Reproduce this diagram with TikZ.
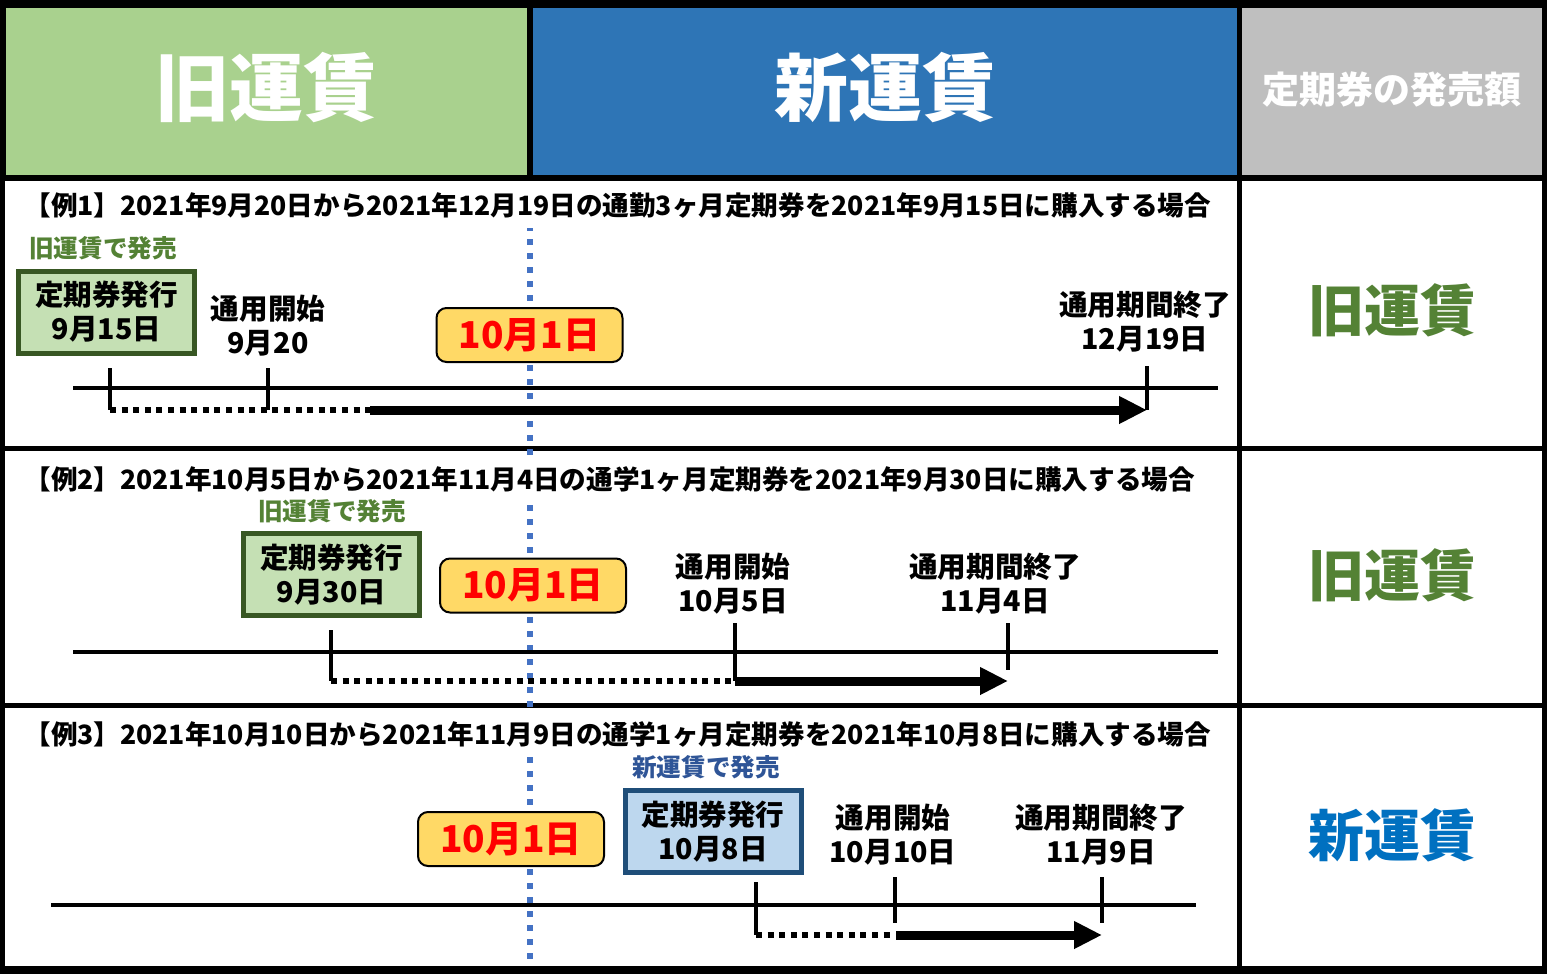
\documentclass[tikz,border=0pt]{standalone}
\usepackage{fontspec}
\setmainfont{Noto Sans CJK JP}
\usetikzlibrary{arrows.meta}
\definecolor{fareOld}{RGB}{169,209,142}
\definecolor{fareNew}{RGB}{46,117,182}
\definecolor{fareGray}{RGB}{191,191,191}
\definecolor{oldFill}{RGB}{197,224,180}
\definecolor{oldEdge}{RGB}{56,87,35}
\definecolor{oldInk}{RGB}{84,130,53}
\definecolor{newFill}{RGB}{189,215,238}
\definecolor{newEdge}{RGB}{31,78,121}
\definecolor{newInk}{RGB}{47,85,151}
\definecolor{newBig}{RGB}{0,112,192}
\definecolor{dayYellow}{RGB}{255,217,102}
\definecolor{dayLine}{RGB}{68,114,196}
\newcommand{\Fs}[2]{\fontsize{#1}{#2}\selectfont}
\newcommand{\Tick}[4]{\draw[tickmark] (#2,#3) -- (#2,#4) coordinate (#1);}
\tikzset{
  headbig/.style={text=white,inner sep=0pt,font=\bfseries\Fs{37}{40}},
  headsmall/.style={text=white,inner sep=0pt,font=\bfseries\Fs{18.5}{20}},
  verdict/.style={inner sep=0pt,font=\bfseries\Fs{28}{30}},
  rowtitle/.style={anchor=west,fill=white,inner xsep=0pt,inner ysep=0pt,minimum height=23pt,font=\bfseries\Fs{13.3}{16}},
  salenote/.style={inner sep=0pt,font=\bfseries\Fs{12.3}{14}},
  datelbl/.style={align=center,inner sep=0pt,font=\bfseries\Fs{14.3}{17}},
  issueold/.style={draw=oldEdge,fill=oldFill,line width=2.5pt,minimum width=88pt,minimum height=41pt,
                   align=center,inner sep=0pt,font=\bfseries\Fs{14.3}{17}},
  issuenew/.style={issueold,draw=newEdge,fill=newFill},
  daybox/.style={draw=black,fill=dayYellow,rounded corners=5pt,line width=1pt,minimum width=93pt,
                 minimum height=27pt,inner sep=0pt,text=red,font=\bfseries\Fs{18.5}{20}},
  axisline/.style={line width=2.4pt},
  tickmark/.style={line width=2.4pt},
  waitline/.style={line width=3pt,dash pattern=on 3pt off 2.8pt},
  validarrow/.style={line width=4.5pt,-{Triangle[length=14pt,width=13pt]}},
  octline/.style={dayLine,line width=3pt,dash pattern=on 3pt off 4pt},
}

\begin{document}
\begin{tikzpicture}[x=0.5pt,y=-0.5pt]
\useasboundingbox (0,0) rectangle (1547,974);
\fill[black] (0,0) rectangle (1547,974);
% header
\fill[fareOld] (6,8) rectangle (527,175);
\fill[fareNew] (533,8) rectangle (1237,175);
\fill[fareGray] (1242,8) rectangle (1542,175);
\node[headbig] (hOld) at (266,88) {旧運賃};
\node[headbig] (hNew) at (885,88) {新運賃};
\node[headsmall] (hAmt) at (1392,90) {定期券の発売額};
% cells
\foreach \ya/\yb in {181/446,451/703,708/966}{
  \fill[white] (5,\ya) rectangle (1237,\yb);
  \fill[white] (1242,\ya) rectangle (1542,\yb);
}
\draw[octline] (530,183) -- (530,966);

% example 1
\node[rowtitle] (ex1) at (24,205) {【例1】2021年9月20日から2021年12月19日の通勤3ヶ月定期券を2021年9月15日に購入する場合};
\node[salenote,text=oldInk] (sale1) at (103,248) {旧運賃で発売};
\node[issueold] (iss1) at (106.5,312) {定期券発行\\9月15日};
\node[datelbl] (st1) at (268,326) {通用開始\\9月20};
\node[daybox] (oct1) at (529.5,335) {10月1日};
\node[datelbl] (en1) at (1145,322) {通用期間終了\\12月19日};
\draw[axisline] (73,388) -- (1218,388);
\Tick{k1a}{110}{368}{410}
\Tick{k1b}{268}{368}{410}
\Tick{k1c}{1147}{366}{410}
\coordinate (m1) at (370,410);
\draw[waitline] (k1a) -- (m1);
\draw[validarrow] (m1) -- (k1c);
\node[verdict,text=oldInk] (v1) at (1392,310) {旧運賃};

% example 2
\node[rowtitle] (ex2) at (24,479) {【例2】2021年10月5日から2021年11月4日の通学1ヶ月定期券を2021年9月30日に購入する場合};
\node[salenote,text=oldInk] (sale2) at (332,511) {旧運賃で発売};
\node[issueold] (iss2) at (331.5,574.5) {定期券発行\\9月30日};
\node[daybox] (oct2) at (533,585.5) {10月1日};
\node[datelbl] (st2) at (733,584) {通用開始\\10月5日};
\node[datelbl] (en2) at (995,584) {通用期間終了\\11月4日};
\draw[axisline] (73,652) -- (1218,652);
\Tick{k2a}{331}{630}{681}
\Tick{k2b}{735}{623}{681}
\Tick{k2c}{1008}{623}{670}
\coordinate (e2) at (1008,681);
\draw[waitline] (k2a) -- (k2b);
\draw[validarrow] (k2b) -- (e2);
\node[verdict,text=oldInk] (v2) at (1392,575) {旧運賃};

% example 3
\node[rowtitle] (ex3) at (24,734) {【例3】2021年10月10日から2021年11月9日の通学1ヶ月定期券を2021年10月8日に購入する場合};
\node[salenote,text=newInk] (sale3) at (706,767) {新運賃で発売};
\node[issuenew] (iss3) at (713,831.5) {定期券発行\\10月8日};
\node[daybox] (oct3) at (511,839) {10月1日};
\node[datelbl] (st3) at (893,835) {通用開始\\10月10日};
\node[datelbl] (en3) at (1101,835) {通用期間終了\\11月9日};
\draw[axisline] (51,905) -- (1196,905);
\Tick{k3a}{756}{882}{935}
\Tick{k3b}{895}{877}{923}
\Tick{k3c}{1102}{877}{923}
\coordinate (m3) at (890,935);
\coordinate (n3) at (896,935);
\coordinate (e3) at (1102,935);
\draw[waitline] (k3a) -- (m3);
\draw[validarrow] (n3) -- (e3);
\node[verdict,text=newBig] (v3) at (1392,835) {新運賃};
\end{tikzpicture}
\end{document}
